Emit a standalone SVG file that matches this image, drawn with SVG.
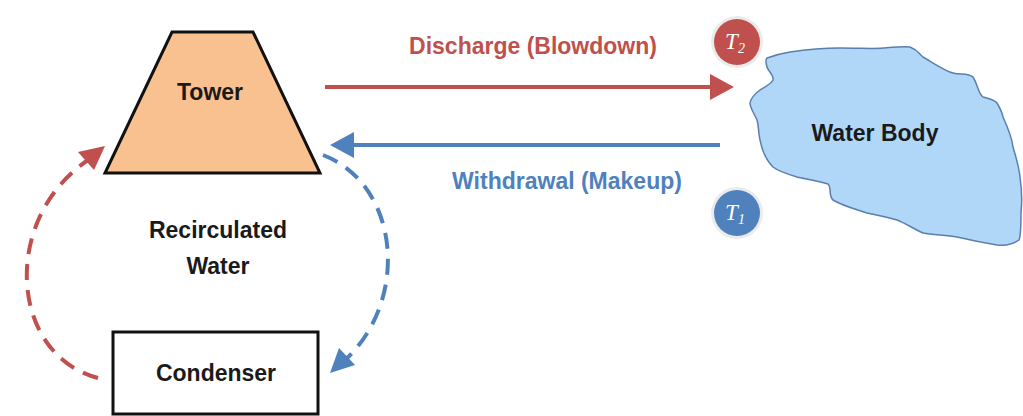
<svg xmlns="http://www.w3.org/2000/svg" width="1023" height="416" viewBox="0 0 1023 416">
<defs>
<style>
.lbl{font-family:"Liberation Sans",Arial,sans-serif;font-weight:bold;font-size:23px;fill:#1a1a1a;text-anchor:middle}
.red{fill:#C0504D}
.blue{fill:#4F81BD}
.t{font-family:"Liberation Serif","Times New Roman",serif;font-style:italic;font-size:23px;fill:#fff;text-anchor:middle}
.sub{font-size:14px}
.halo{fill:#ebebeb}
</style>
</defs>
<rect width="1023" height="416" fill="#fff"/>
<g id="tower">
<polygon points="172,32 253,32 320,173 105,173" fill="#F9C090" stroke="#111" stroke-width="3" stroke-linejoin="miter"/>
<text class="lbl" x="210" y="100">Tower</text>
</g>
<g id="condenser">
<rect x="113" y="332" width="205" height="82" fill="#fff" stroke="#111" stroke-width="3"/>
<text class="lbl" x="216" y="381">Condenser</text>
</g>
<g id="waterbody">
<path d="M767,58 C778,54 790,52 790,52 C810,49 825,48 840,48 C860,48 875,49 883,48 C895,47 905,46 910,47 C918,50 920,55 923,57 C935,64 945,71 953,73 C960,75 968,73 973,77 C978,85 978,93 983,97 C990,99 995,100 997,103 C1000,108 1002,112 1003,117 C1008,128 1012,138 1013,147 C1016,157 1019,167 1020,177 C1022,190 1022,203 1021,213 C1021,225 1021,235 1019,240 C1012,245 1005,246 997,245 C985,243 970,240 957,237 C945,235 933,235 923,233 C912,228 905,223 897,220 C887,217 877,215 867,213 C855,209 843,206 833,200 C828,195 832,188 828,184 C815,180 805,179 797,177 C787,174 778,171 773,167 C766,160 762,150 760,140 C758,132 759,126 757,120 C754,113 750,108 750,103 C751,97 756,93 760,90 C765,87 771,84 773,80 C774,75 768,71 767,67 C766,63 765,60 767,58 Z" fill="#B0D7F8" stroke="#5A7FAE" stroke-width="1.5"/>
<text class="lbl" x="875" y="141">Water Body</text>
</g>
<g id="t2">
<circle cx="737" cy="42" r="26" class="halo"/>
<circle cx="737" cy="42" r="23" fill="#C0504D"/>
<text class="t" x="735" y="49">T<tspan class="sub" dy="4">2</tspan></text>
</g>
<g id="t1">
<circle cx="737" cy="213" r="26" class="halo"/>
<circle cx="737" cy="213" r="23" fill="#4F81BD"/>
<text class="t" x="735" y="220">T<tspan class="sub" dy="4">1</tspan></text>
</g>
<g id="recirc-label">
<text class="lbl" x="218" y="238">Recirculated</text>
<text class="lbl" x="218" y="274">Water</text>
</g>
<g id="connectors" fill="none" stroke-width="4">
<line x1="325" y1="87" x2="712" y2="87" stroke="#C0504D"/>
<polygon points="710,74 734,87 710,100" fill="#C0504D" stroke="none"/>
<line x1="720" y1="145" x2="352" y2="145" stroke="#4F81BD"/>
<polygon points="354,132 330,145 354,158" fill="#4F81BD" stroke="none"/>
<path d="M98,378 C10,355 0,220 88,160" stroke="#C0504D" stroke-dasharray="16,10"/>
<polygon points="105,146 78,152 94,170" fill="#C0504D" stroke="none"/>
<path d="M323,155 C400,185 410,300 345,360" stroke="#4F81BD" stroke-dasharray="16,10"/>
<polygon points="330,373 339,348 355,365" fill="#4F81BD" stroke="none"/>
<text class="lbl red" x="533" y="54">Discharge (Blowdown)</text>
<text class="lbl blue" x="567" y="189">Withdrawal (Makeup)</text>
</g>
</svg>
